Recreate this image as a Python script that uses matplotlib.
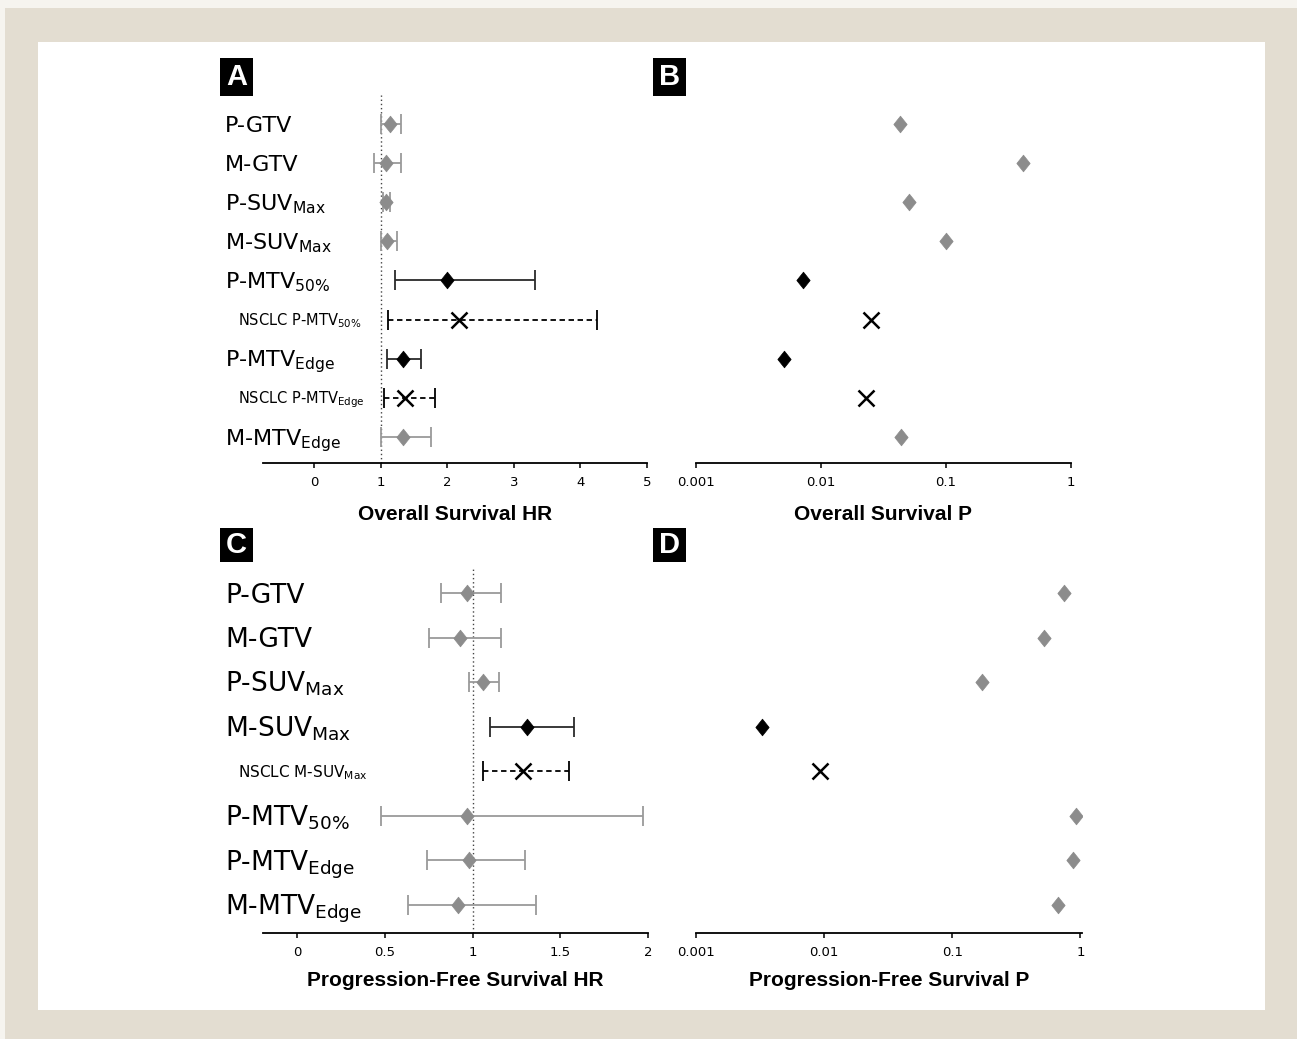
import matplotlib.pyplot as plt
import matplotlib.transforms as mtransforms
from matplotlib.patches import Rectangle
from matplotlib.path import Path

plt.rcParams.update({
    "font.family": ["DejaVu Sans"],
    "mathtext.default": "regular",
})

W, H = 1297, 1039

# overall survival (panels A, B)
os_rows = ["P-GTV", "M-GTV", r"P-SUV$_{Max}$", r"M-SUV$_{Max}$", r"P-MTV$_{50\%}$",
           r"NSCLC P-MTV$_{50\%}$", r"P-MTV$_{Edge}$", r"NSCLC P-MTV$_{Edge}$", r"M-MTV$_{Edge}$"]
os_hr = [1.14, 1.08, 1.08, 1.10, 2.00, 2.17, 1.33, 1.37, 1.34]
os_lo = [1.01, 0.90, 1.03, 1.01, 1.21, 1.11, 1.09, 1.05, 1.01]
os_hi = [1.30, 1.30, 1.14, 1.25, 3.31, 4.25, 1.60, 1.82, 1.75]
os_p = [0.043, 0.41, 0.051, 0.10, 0.0072, 0.025, 0.0051, 0.023, 0.044]
os_kind = ["ns", "ns", "ns", "ns", "sig", "nsclc", "sig", "nsclc", "ns"]

# progression-free survival (panels C, D)
pfs_rows = ["P-GTV", "M-GTV", r"P-SUV$_{Max}$", r"M-SUV$_{Max}$", r"NSCLC M-SUV$_{Max}$",
            r"P-MTV$_{50\%}$", r"P-MTV$_{Edge}$", r"M-MTV$_{Edge}$"]
pfs_hr = [0.97, 0.93, 1.06, 1.31, 1.29, 0.97, 0.98, 0.92]
pfs_lo = [0.82, 0.75, 0.98, 1.10, 1.06, 0.48, 0.74, 0.63]
pfs_hi = [1.16, 1.16, 1.15, 1.58, 1.55, 1.97, 1.30, 1.36]
pfs_p = [0.74, 0.52, 0.17, 0.0033, 0.0093, 0.92, 0.88, 0.67]
pfs_kind = ["ns", "ns", "ns", "sig", "nsclc", "ns", "ns", "ns"]

DIAMOND = Path([(0, 1), (0.8, 0), (0, -1), (-0.8, 0), (0, 1)],
               [Path.MOVETO, Path.LINETO, Path.LINETO, Path.LINETO, Path.CLOSEPOLY])

STYLE = {
    "ns":    dict(marker=DIAMOND, mfc="#8c8c8c", mec="#8c8c8c", ms=12, ecolor="#9a9a9a", ls="-"),
    "sig":   dict(marker=DIAMOND, mfc="black", mec="black", ms=12, ecolor="#2a2a2a", ls="-"),
    "nsclc": dict(marker="x", mfc="black", mec="black", ms=11, ecolor="black", ls=(0, (3, 2))),
}


def px_axes(fig, left, top, right, bottom):
    return fig.add_axes([left / W, 1 - bottom / H, (right - left) / W, (bottom - top) / H])


def style_axis(ax):
    for s in ["top", "left", "right"]:
        ax.spines[s].set_visible(False)
    ax.spines["bottom"].set_linewidth(1.3)
    ax.tick_params(axis="x", direction="out", length=3.5, width=1.1, labelsize=9.5, pad=6)
    ax.set_yticks([])
    ax.patch.set_alpha(0)


def plot_hr(ax, rows, hr, lo, hi, kind, ylim, big, small, fig):
    for i in range(len(rows)):
        st = STYLE[kind[i]]
        _, caps, bars = ax.errorbar(
            [hr[i]], [i], xerr=[[hr[i] - lo[i]], [hi[i] - hr[i]]],
            fmt="none", ecolor=st["ecolor"], elinewidth=1.3, capsize=7, capthick=1.3, zorder=2)
        bars[0].set_linestyle(st["ls"])
        ax.plot(hr[i], i, linestyle="none", marker=st["marker"], ms=st["ms"],
                mfc=st["mfc"], mec=st["mec"], mew=1.8 if kind[i] == "nsclc" else 0.5, zorder=3)
        nsclc = rows[i].startswith("NSCLC")
        fs = small if nsclc else big
        x = (238 if nsclc else 225) / W
        trans = mtransforms.blended_transform_factory(fig.transFigure, ax.transData)
        trans = mtransforms.offset_copy(trans, fig=fig, y=-0.365 * fs, units="points")
        ax.text(x, i, rows[i], transform=trans, fontsize=fs, va="baseline", ha="left", clip_on=False)
    ax.axvline(1, color="#444444", ls=(0, (1, 2)), lw=1.0, zorder=1)
    ax.set_ylim(*ylim)


def plot_p(ax, p, kind, ylim, xmax):
    for i in range(len(p)):
        st = STYLE[kind[i]]
        ax.plot(p[i], i, linestyle="none", marker=st["marker"], ms=st["ms"],
                mfc=st["mfc"], mec=st["mec"], mew=1.8 if kind[i] == "nsclc" else 0.5)
    ax.set_xscale("log")
    ax.set_xlim(0.001, xmax)
    ax.set_xticks([0.001, 0.01, 0.1, 1])
    ax.set_xticklabels(["0.001", "0.01", "0.1", "1"])
    ax.minorticks_off()
    ax.set_ylim(*ylim)


def set_label(ax, text, y_px, top, bottom):
    ax.set_xlabel(text, fontsize=15, fontweight="bold", family="Liberation Sans")
    ax.xaxis.set_label_coords(0.5, -(y_px - bottom) / (bottom - top))
    ax.xaxis.label.set_va("center")


fig = plt.figure(figsize=(W / 100, H / 100), dpi=100, facecolor="#f6f4ef")
fig.add_artist(Rectangle((5 / W, 0), 1, 1 - 8 / H, transform=fig.transFigure,
                         facecolor="#e3ddd1", edgecolor="none", zorder=-10))
fig.add_artist(Rectangle((38 / W, 1 - 1010 / H), (1265 - 38) / W, (1010 - 42) / H,
                         transform=fig.transFigure, facecolor="white", edgecolor="none", zorder=-9))

# panel A
axA = px_axes(fig, 263, 95, 647, 463)
style_axis(axA)
plot_hr(axA, os_rows, os_hr, os_lo, os_hi, os_kind, (8.665, -0.741), 16, 10.5, fig)
axA.set_xlim(-0.77, 5)
axA.set_xticks([0, 1, 2, 3, 4, 5])
set_label(axA, "Overall Survival HR", 514, 95, 463)

# panel B
axB = px_axes(fig, 696, 95, 1071, 463)
style_axis(axB)
plot_p(axB, os_p, os_kind, (8.665, -0.741), 1)
set_label(axB, "Overall Survival P", 514, 95, 463)

# panel C
axC = px_axes(fig, 263, 568, 648, 933)
style_axis(axC)
plot_hr(axC, pfs_rows, pfs_hr, pfs_lo, pfs_hi, pfs_kind, (7.628, -0.561), 19, 11, fig)
axC.set_xlim(-0.194, 2)
axC.set_xticks([0, 0.5, 1, 1.5, 2])
axC.set_xticklabels(["0", "0.5", "1", "1.5", "2"])
set_label(axC, "Progression-Free Survival HR", 981, 568, 933)

# panel D
axD = px_axes(fig, 696, 568, 1082, 933)
style_axis(axD)
plot_p(axD, pfs_p, pfs_kind, (7.628, -0.561), 1.03)
set_label(axD, "Progression-Free Survival P", 981, 568, 933)

# panel letters
for letter, x0, y0, y1 in [("A", 220, 58, 96), ("B", 653, 58, 96),
                           ("C", 220, 528, 562), ("D", 653, 528, 562)]:
    fig.add_artist(Rectangle((x0 / W, 1 - y1 / H), 33 / W, (y1 - y0) / H,
                             transform=fig.transFigure, facecolor="black", edgecolor="none"))
    fig.text((x0 + 16.5) / W, 1 - (y0 + y1) / 2 / H, letter, color="white", fontsize=21,
             fontweight="bold", family="Liberation Sans", ha="center", va="center")

fig.savefig("out.png", dpi=100, facecolor=fig.get_facecolor())
